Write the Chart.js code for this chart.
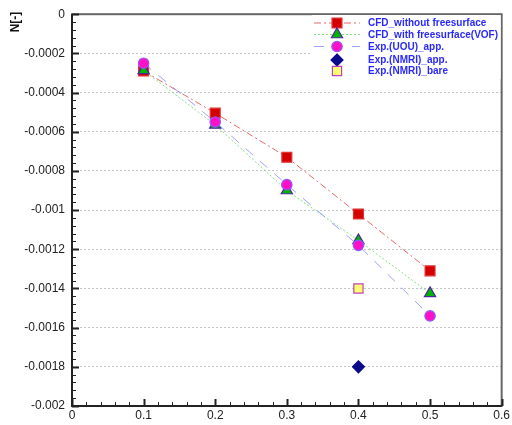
<!DOCTYPE html>
<html><head><meta charset="utf-8">
<script src="https://cdn.jsdelivr.net/npm/chart.js@4/dist/chart.umd.min.js"></script>
<style>html,body{margin:0;padding:0;background:#fff}#wrap{width:512px;height:425px}</style>
</head><body><div id="wrap"><canvas id="c" width="512" height="425"></canvas></div>
<script>
const seriesNames = ['CFD_without freesurface','CFD_with freesurface(VOF)','Exp.(UOU)_app.','Exp.(NMRI)_app.','Exp.(NMRI)_bare'];
const xCFD = [0.1, 0.2, 0.3, 0.4, 0.5];
const cfdWithout = [-0.00029, -0.000505, -0.00073, -0.00102, -0.00131];
const cfdWith = [-0.000287, -0.000565, -0.0009, -0.001155, -0.001425];
const expUOU = [-0.00025, -0.00055, -0.00087, -0.00118, -0.00154];
const xNMRI = [0.4];
const nmriApp = [-0.0018];
const nmriBare = [-0.0014];
const xTicks = [0, 0.1, 0.2, 0.3, 0.4, 0.5, 0.6];
const yTicks = [0, -0.0002, -0.0004, -0.0006, -0.0008, -0.001, -0.0012, -0.0014, -0.0016, -0.0018, -0.002];
const yTitle = 'N[-]';

const toXY = (xs, ys) => xs.map((x, i) => ({x: x, y: ys[i]}));

const styles = [
  {line:'rgba(225,80,80,0.85)', dash:[7,3,2,3], ps:'rect', r:7, fill:'#d40000', edge:'#e03030'},
  {line:'rgba(120,220,120,0.9)', dash:[2,2], ps:'triangle', r:6.5, fill:'#00b400', edge:'#4a2a9a'},
  {line:'rgba(150,150,255,0.9)', dash:[10,9], ps:'circle', r:5.2, fill:'#ff10c8', edge:'#8a5aff'},
  {line:null, dash:[], ps:'rectRot', r:6, fill:'#0a0a8a', edge:'#0a0a8a'},
  {line:null, dash:[], ps:'rect', r:6.5, fill:'#ffff70', edge:'#c040c0'}
];
const dataArr = [toXY(xCFD,cfdWithout), toXY(xCFD,cfdWith), toXY(xCFD,expUOU), toXY(xNMRI,nmriApp), toXY(xNMRI,nmriBare)];
const orders = [3,2,1,0,0];

const datasets = dataArr.map((d,i)=>({
  label: seriesNames[i], data: d, order: orders[i],
  showLine: !!styles[i].line, borderColor: styles[i].line || 'transparent', borderWidth: 1, borderDash: styles[i].dash,
  pointStyle: styles[i].ps, pointRadius: styles[i].r, pointHoverRadius: styles[i].r,
  pointBackgroundColor: styles[i].fill, pointBorderColor: styles[i].edge, pointBorderWidth: 1.2
}));

function marker(ctx, s, x, y){
  ctx.save();
  ctx.fillStyle=s.fill; ctx.strokeStyle=s.edge; ctx.lineWidth=1.2;
  ctx.beginPath();
  const r = s.r;
  if (s.ps==='rect'){ const h=r*Math.SQRT1_2; ctx.rect(x-h,y-h,2*h,2*h); }
  else if (s.ps==='circle'){ ctx.arc(x,y,r,0,Math.PI*2); }
  else if (s.ps==='triangle'){ ctx.moveTo(x, y-r); ctx.lineTo(x+r*0.866, y+r*0.5); ctx.lineTo(x-r*0.866, y+r*0.5); ctx.closePath(); }
  else if (s.ps==='rectRot'){ ctx.moveTo(x,y-r); ctx.lineTo(x+r,y); ctx.lineTo(x,y+r); ctx.lineTo(x-r,y); ctx.closePath(); }
  ctx.fill(); ctx.stroke();
  ctx.restore();
}

const framePlugin = {
  id:'frame',
  beforeDatasetsDraw(chart){
    const {ctx, chartArea:a} = chart;
    ctx.save();
    ctx.strokeStyle='#666'; ctx.lineWidth=2;
    ctx.strokeRect(a.left, a.top, a.right-a.left, a.bottom-a.top);
    const xs = chart.scales.x, ys = chart.scales.y;
    ctx.strokeStyle='#222';
    for (let i=0;i<=30;i++){
      const v = i*0.02; const px = Math.round(xs.getPixelForValue(v))+0.5;
      const major = i%5===0; ctx.lineWidth = major?2:1;
      ctx.beginPath(); ctx.moveTo(px, a.bottom); ctx.lineTo(px, a.bottom-(major?7:4)); ctx.stroke();
    }
    for (let i=0;i<=50;i++){
      const v = -i*0.00004; const py = Math.round(ys.getPixelForValue(v))+0.5;
      const major = i%5===0; ctx.lineWidth = major?2:1;
      ctx.beginPath(); ctx.moveTo(a.left, py); ctx.lineTo(a.left+(major?7:4), py); ctx.stroke();
    }
    ctx.strokeStyle='#222'; ctx.lineWidth=2;
    ctx.beginPath(); ctx.moveTo(a.left, a.top); ctx.lineTo(a.left, a.bottom); ctx.lineTo(a.right, a.bottom); ctx.stroke();
    ctx.restore();
  },
  afterDraw(chart){
    const ctx = chart.ctx;
    const a = chart.chartArea;
    ctx.save();
    ctx.translate(16, 22); ctx.rotate(-Math.PI/2);
    ctx.font = 'bold 12px "Liberation Sans", Arial, sans-serif';
    ctx.fillStyle='#111'; ctx.textAlign='center'; ctx.textBaseline='middle';
    ctx.fillText(yTitle, 0, 0);
    ctx.restore();
    ctx.save();
    ctx.fillStyle='#fff'; ctx.fillRect(312, 15, a.right-1-312, 64);
    const rows = [23, 34.5, 46.5, 60, 71];
    ctx.font = 'bold 10px "Liberation Sans", Arial, sans-serif';
    ctx.textBaseline='middle'; ctx.textAlign='left';
    seriesNames.forEach((name,i)=>{
      const s = styles[i], y = rows[i];
      if (s.line){
        ctx.save(); ctx.strokeStyle=s.line; ctx.lineWidth=1; ctx.setLineDash(s.dash);
        ctx.beginPath(); ctx.moveTo(314, y); ctx.lineTo(360, y); ctx.stroke(); ctx.restore();
      }
      marker(ctx, s, 337, y);
      ctx.fillStyle='#2a2aff';
      ctx.fillText(name, 368, y+0.5);
    });
    ctx.restore();
  }
};

new Chart(document.getElementById('c'), {
  type:'scatter',
  data:{datasets},
  plugins:[framePlugin],
  options:{
    responsive:false, animation:false,
    layout:{padding:{top:12.5, right:9, left:0, bottom:0}},
    plugins:{legend:{display:false}, tooltip:{enabled:false}},
    scales:{
      x:{type:'linear', min:0, max:0.6,
        afterBuildTicks(s){ s.ticks = xTicks.map(v=>({value:v})); },
        afterFit(s){ s.height = 19; },
        grid:{display:false, drawTicks:false}, border:{display:false},
        ticks:{padding:2, color:'#222', font:{family:'"Liberation Sans", Arial, sans-serif', size:12}, callback:v=>String(Number(v.toFixed(2))), maxRotation:0, autoSkip:false}
      },
      y:{type:'linear', min:-0.002, max:0,
        afterBuildTicks(s){ s.ticks = yTicks.map(v=>({value:v})); },
        afterFit(s){ s.width = 72; },
        grid:{color:'#c4c4c4', drawTicks:false, lineWidth:1}, border:{display:false, dash:[2,2]},
        ticks:{padding:7, color:'#222', font:{family:'"Liberation Sans", Arial, sans-serif', size:12}, callback:v=>String(Number(v.toFixed(4))), autoSkip:false}
      }
    }
  }
});
</script></body></html>
